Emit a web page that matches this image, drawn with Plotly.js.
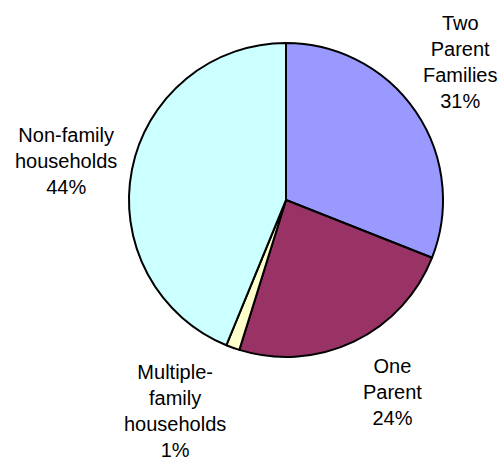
<!DOCTYPE html>
<html>
<head>
<meta charset="utf-8">
<script src="https://cdn.plot.ly/plotly-3.0.1.min.js"></script>
<style>html,body{margin:0;padding:0;background:#fff;}#chart{width:503px;height:461px;}</style>
</head>
<body>
<div id="chart"></div>
<script>
const categories = ["Two Parent Families", "One Parent", "Multiple-family households", "Non-family households"];
const labelLines = [["Two", "Parent", "Families"], ["One", "Parent"], ["Multiple-", "family", "households"], ["Non-family", "households"]];
const values = [31, 23.8, 1.4, 43.8];
const colors = ["#9999FF", "#993366", "#FFFFCC", "#CCFFFF"];

const W = 503, H = 461;
const cx = 286, cy = 200, R = 157;
// label block centres (pixels)
const labelPos = [[460, 62], [392, 392], [175, 411], [66, 161]];

const total = values.reduce((a, b) => a + b, 0);
const annotations = categories.map((c, i) => ({
  text: labelLines[i].join("<br>") + "<br>" + Math.round(values[i] / total * 100) + "%",
  xref: "paper", yref: "paper",
  x: labelPos[i][0] / W, y: 1 - labelPos[i][1] / H,
  xanchor: "center", yanchor: "middle", align: "center",
  showarrow: false,
  font: {family: "Liberation Sans, Arial, sans-serif", size: 20, color: "#000"}
}));

Plotly.newPlot("chart", [{
  type: "pie",
  labels: categories,
  values: values,
  sort: false,
  direction: "clockwise",
  rotation: 0,
  textinfo: "none",
  hoverinfo: "label+percent",
  marker: {colors: colors, line: {color: "#000", width: 2}},
  domain: {x: [(cx - R) / W, (cx + R) / W], y: [1 - (cy + R) / H, 1 - (cy - R) / H]}
}], {
  width: W, height: H,
  margin: {l: 0, r: 0, t: 0, b: 0},
  showlegend: false,
  paper_bgcolor: "#fff",
  annotations: annotations
}, {displayModeBar: false, staticPlot: true});
</script>
</body>
</html>
